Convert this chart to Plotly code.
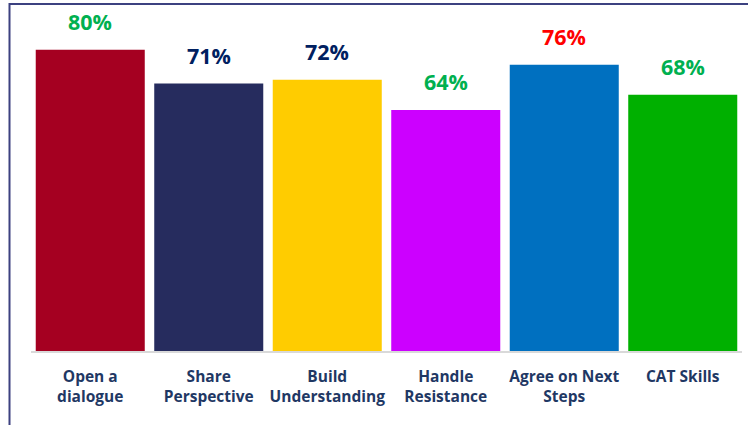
import plotly.graph_objects as go

categories = ["Open a<br>dialogue", "Share<br>Perspective", "Build<br>Understanding",
              "Handle<br>Resistance", "Agree on Next<br>Steps", "CAT Skills"]
values = [0.80, 0.71, 0.72, 0.64, 0.76, 0.68]
bar_colors = ["#a50021", "#262c5e", "#ffcc00", "#cc00ff", "#0070c0", "#00b000"]
label_colors = ["#00b050", "#002060", "#002060", "#00b050", "#ff0000", "#00b050"]

W, H = 748, 425
L, R, T, B = 31, 6, 12, 74

fig = go.Figure(go.Bar(
    x=categories, y=values,
    marker=dict(color=bar_colors, line=dict(width=0)),
    hoverinfo="skip",
))

for c, v, col in zip(categories, values, label_colors):
    fig.add_annotation(
        x=c, y=v, text=f"{round(v * 100)}%", showarrow=False,
        yanchor="bottom", yshift=12,
        font=dict(family="Open Sans", size=21.5, color=col, weight="bold"),
    )

pw, ph = W - L - R, H - T - B
# outer frame around the chart
fig.add_shape(
    type="rect", xref="paper", yref="paper",
    x0=(9.5 - L) / pw, x1=1.2, y0=-0.5, y1=(H - B - 4) / ph,
    line=dict(color="#3c4180", width=2), layer="above",
)

fig.update_layout(
    width=W, height=H,
    margin=dict(l=L, r=R, t=T, b=B),
    paper_bgcolor="white", plot_bgcolor="white",
    bargap=0.08, showlegend=False,
    xaxis=dict(
        showline=True, linecolor="#d9d9d9", linewidth=2,
        ticks="outside", ticklen=10, tickcolor="rgba(0,0,0,0)",
        tickfont=dict(family="Open Sans", size=15.5, color="#1f3864", weight="bold"),
        showgrid=False,
    ),
    yaxis=dict(range=[0, 0.9], visible=False, showgrid=False, zeroline=False),
)

fig.write_html("out.html")
